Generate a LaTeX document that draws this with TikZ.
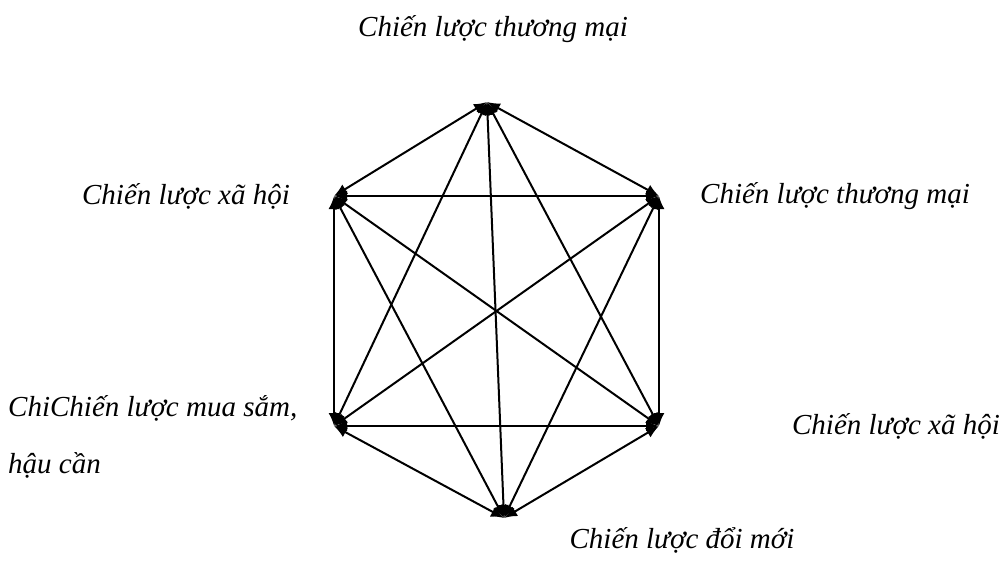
\documentclass[tikz,border=0pt]{standalone}
\usepackage{fontspec}
\setmainfont{Liberation Serif}
\usetikzlibrary{arrows.meta,positioning}

\tikzset{
  lbl/.style={font=\fontsize{29}{35}\selectfont\itshape, inner sep=0pt},
  link/.style={line width=2pt, {Latex[length=13pt,width=11pt]}-{Latex[length=13pt,width=11pt]}}
}

\begin{document}
\begin{tikzpicture}[x=1pt,y=-1pt]
  \useasboundingbox (0,0) rectangle (1007,576);
  % vertices of the hexagon
  \coordinate (top) at (487,102);
  \coordinate (ul) at (334,196);
  \coordinate (ur) at (659,196);
  \coordinate (ll) at (334,426);
  \coordinate (lr) at (659,426);
  \coordinate (bot) at (504,518);
  % labels
  \node[lbl] (ltop) at (493,29) {Chiến lược thương mại};
  \node[lbl, anchor=east] (lul) at (290,196) {Chiến lược xã hội};
  \node[lbl, anchor=west] (lur) at (700,196) {Chiến lược thương mại};
  \node[lbl, anchor=west] (lll) at (8,408) {ChiChiến lược mua sắm,};
  \node[lbl, anchor=west] (llh) at (8,465) {hậu cần};
  \node[lbl, anchor=east] (llr) at (1000,426) {Chiến lược xã hội};
  \node[lbl] (lbot) at (682,540) {Chiến lược đổi mới};
  % all connections
  \foreach \a/\b in {top/ul,top/ur,top/ll,top/lr,top/bot,ul/ur,ul/ll,ul/lr,ul/bot,ur/ll,ur/lr,ur/bot,ll/lr,ll/bot,lr/bot}
    \draw[link] (\a) -- (\b);
\end{tikzpicture}
\end{document}
